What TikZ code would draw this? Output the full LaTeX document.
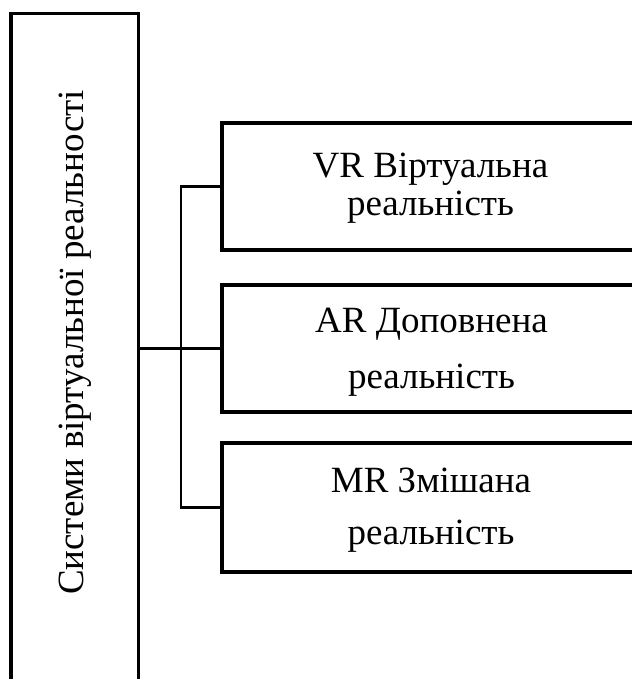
\documentclass[tikz,border=0pt]{standalone}
\usepackage{fontspec}
\setmainfont{Liberation Serif}
\begin{document}
\begin{tikzpicture}[x=1pt,y=-1pt,
  boxstyle/.style={draw, line width=3.5pt, inner sep=0pt, outer sep=0pt},
  conn/.style={line width=2.3pt},
  txt/.style={font=\fontsize{37}{36}\selectfont, align=center, inner sep=0pt}]
\useasboundingbox (0,0) rectangle (631,679);
% left main box (runs past the bottom edge)
\node[boxstyle, minimum width=127.5pt, minimum height=700pt, anchor=north west] (sys) at (11,13.5) {};
\node[txt, rotate=90, anchor=base] (systxt) at (83,342.5) {Системи віртуальної реальності};
% right boxes (run past the right edge)
\node[boxstyle, minimum width=450pt, minimum height=127pt, anchor=west] (vr) at (222,186.5) {};
\node[boxstyle, minimum width=450pt, minimum height=127pt, anchor=west] (ar) at (222,348.5) {};
\node[boxstyle, minimum width=450pt, minimum height=129pt, anchor=west] (mr) at (222,507.5) {};
\node[txt] (vrtxt) at (430.5,188.5) {VR Віртуальна\\[2pt]реальність};
\node[txt] (artxt) at (431.5,352.5) {AR Доповнена\\[20pt]реальність};
\node[txt] (mrtxt) at (431,510.5) {MR Змішана\\[16pt]реальність};
% connectors
\draw[conn] (sys.east |- ar.west) -- (ar.west);
\draw[conn] (vr.west) -- ++(-41,0) |- (mr.west);
\end{tikzpicture}
\end{document}
